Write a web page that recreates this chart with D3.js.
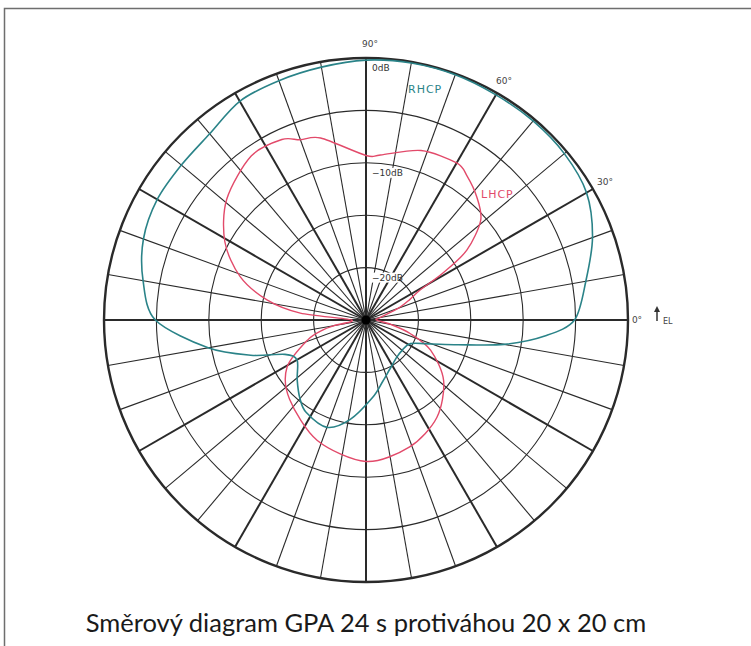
<!DOCTYPE html>
<html>
<head>
<meta charset="utf-8">
<script src="https://cdn.jsdelivr.net/npm/d3@7"></script>
<style>
  html, body { margin: 0; padding: 0; background: #fff; }
  svg { display: block; }
</style>
</head>
<body>
<svg id="chart" width="751" height="646"></svg>
<script>
// Elevation pattern of the GPA 24 antenna, gain in dB relative to the maximum.
// Angles are elevation degrees: 0 = horizon (right), 90 = zenith, 180 = opposite horizon.
const rhcpAngles = [0, 10, 20, 30, 40, 50, 60, 70, 80, 90, 100, 110, 120, 130, 140, 150, 160, 170, 180,
                    190, 197, 203, 210, 221, 230, 237, 250, 261, 275, 285, 296, 310, 320, 332, 340, 345, 350, 355];
const rhcpDb     = [-5.1, -3.7, -2.0, -0.7, -0.3, -0.2, -0.2, -0.1, -0.1, -0.2, -0.5, -0.7, -0.9, -1.8, -2.0, -2.0, -2.4, -3.4, -4.9,
                    -9.7, -13.5, -16.6, -17.4, -16.3, -15.2, -14.5, -14.1, -15.4, -17.6, -18.9, -19.8, -20.4, -20.5, -20.2, -18.3, -15.9, -11.6, -7.8];

const lhcpAngles = [0, 10, 20, 25, 29, 31.4, 34.7, 41, 48, 55, 60, 72, 85, 90, 104, 110, 115, 125, 139, 151, 161, 168.6, 174,
                    180, 190, 193, 199, 211, 226, 248, 270, 289, 306, 322, 335, 343, 350];
const lhcpDb     = [-24.0, -23.6, -21.7, -20.4, -19.1, -16.4, -13.3, -10.5, -9.2, -8.2, -7.7, -8.0, -9.2, -9.3, -7.1, -6.7, -6.0, -5.9, -7.4, -9.6, -12.3, -15.4, -18.7,
                    -23.6, -21.9, -20.8, -19.1, -16.2, -14.5, -12.6, -11.5, -12.2, -13.5, -15.6, -18.2, -20.6, -22.6];

const ringDb      = [-20, -15, -10, -5, 0];
const ringLabels  = [{db: 0, text: "0dB"}, {db: -10, text: "\u221210dB"}, {db: -20, text: "\u221220dB"}];
const spokeAngles = d3.range(0, 360, 10);
const angleLabels = [0, 30, 60, 90];
const caption     = "Směrový diagram GPA 24 s protiváhou 20 x 20 cm";

const svg = d3.select("#chart");
const cx = 366, cy = 320, R = 262;

// Frame around the figure
svg.append("rect")
  .attr("x", 4.5).attr("y", 8.5).attr("width", 800).attr("height", 700)
  .attr("fill", "none").attr("stroke", "#6e6e6e").attr("stroke-width", 1.5);

const r = d3.scaleLinear().domain([-25, 0]).range([0, R]).clamp(true);
const rad = d => d * Math.PI / 180;

const g = svg.append("g").attr("transform", `translate(${cx},${cy})`);

// Rings of constant gain
g.selectAll("circle.ring").data(ringDb).join("circle")
  .attr("class", "ring")
  .attr("r", d => r(d))
  .attr("fill", "none")
  .attr("stroke", "#2a2a2a")
  .attr("stroke-width", d => d === 0 ? 2.4 : 1.1);

// Radial spokes, heavier every 30 degrees
g.selectAll("line.spoke").data(spokeAngles).join("line")
  .attr("class", "spoke")
  .attr("x1", 0).attr("y1", 0)
  .attr("x2", d => R * Math.cos(rad(d)))
  .attr("y2", d => -R * Math.sin(rad(d)))
  .attr("stroke", "#2a2a2a")
  .attr("stroke-width", d => d % 30 === 0 ? 2 : 1.1);

// Pattern curves
const radial = d3.lineRadial()
  .angle(d => rad(90 - d[0]))
  .radius(d => r(d[1]))
  .curve(d3.curveCardinalClosed.tension(0.1));

const rhcp = rhcpAngles.map((a, i) => [a, rhcpDb[i]]);
const lhcp = lhcpAngles.map((a, i) => [a, lhcpDb[i]]);

g.append("path").datum(lhcp)
  .attr("d", radial)
  .attr("fill", "none").attr("stroke", "#e24a6a").attr("stroke-width", 1.4);

g.append("path").datum(rhcp)
  .attr("d", radial)
  .attr("fill", "none").attr("stroke", "#2a8388").attr("stroke-width", 1.6);

// Centre point
g.append("circle").attr("r", 4.5).attr("fill", "#000");

// Gain labels along the zenith spoke
const gl = g.selectAll("g.dbl").data(ringLabels).join("g").attr("class", "dbl")
  .attr("transform", d => `translate(6,${-r(d.db) + 13})`);
gl.append("rect")
  .attr("x", -1).attr("y", -8).attr("width", d => d.text.length * 5.6).attr("height", 10)
  .attr("fill", "#fff");
gl.append("text")
  .attr("font-family", "DejaVu Sans, sans-serif").attr("font-size", 9)
  .attr("fill", "#333")
  .text(d => d.text);

// Elevation labels outside the rim
g.selectAll("text.ang").data(angleLabels).join("text")
  .attr("class", "ang")
  .attr("x", d => 276 * Math.cos(rad(d)) + (d === 90 ? 4 : 0) + (d === 0 ? -5 : 0))
  .attr("y", d => -276 * Math.sin(rad(d)))
  .attr("dy", "0.35em")
  .attr("text-anchor", "middle")
  .attr("font-family", "DejaVu Sans, sans-serif").attr("font-size", 9)
  .attr("fill", "#444")
  .text(d => d + "°");

// Elevation direction marker
const el = g.append("g").attr("transform", `translate(${R + 29},0)`);
el.append("line").attr("x1", 0).attr("y1", 1).attr("x2", 0).attr("y2", -10)
  .attr("stroke", "#333").attr("stroke-width", 1.5);
el.append("path").attr("d", "M-3,-8 L0,-14 L3,-8 Z").attr("fill", "#333");
el.append("text").attr("x", 6).attr("y", 4)
  .attr("font-family", "DejaVu Sans, sans-serif").attr("font-size", 8).attr("fill", "#444")
  .text("EL");

// Series names
g.append("text").attr("x", 42).attr("y", -227)
  .attr("font-family", "DejaVu Sans, sans-serif").attr("font-size", 11).attr("letter-spacing", 1)
  .attr("fill", "#2a8388").text("RHCP");
g.append("text").attr("x", 115).attr("y", -122)
  .attr("font-family", "DejaVu Sans, sans-serif").attr("font-size", 11).attr("letter-spacing", 1)
  .attr("fill", "#e24a6a").text("LHCP");

// Caption
svg.append("text")
  .attr("x", 366).attr("y", 632)
  .attr("text-anchor", "middle")
  .attr("font-family", "Lato, 'Open Sans', sans-serif").attr("font-size", 25.5)
  .attr("fill", "#1a1a1a")
  .text(caption);
</script>
</body>
</html>
